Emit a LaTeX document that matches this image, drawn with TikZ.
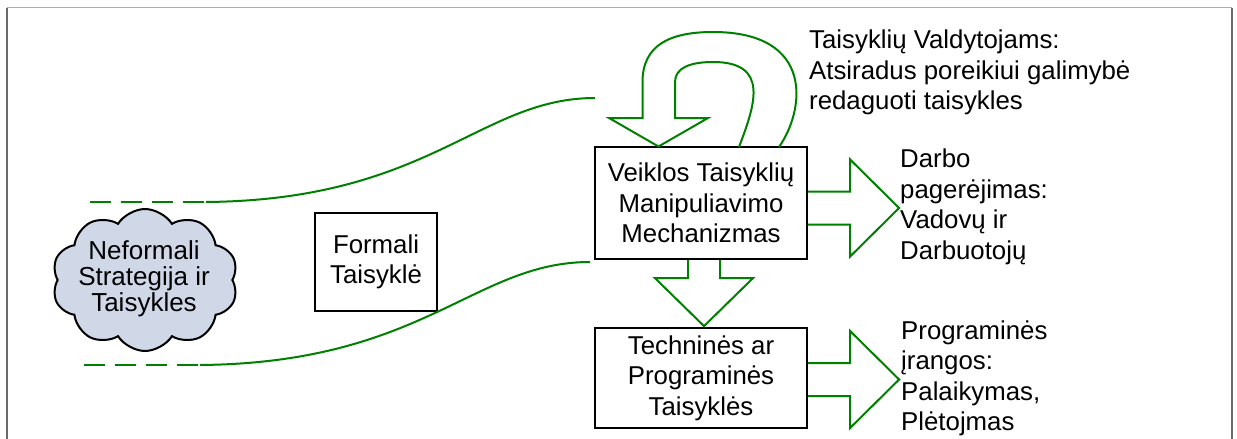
\documentclass[tikz,border=0pt]{standalone}
\usepackage{fontspec}
\setmainfont{Liberation Sans}
\usetikzlibrary{shapes.symbols}
\definecolor{flowgreen}{RGB}{0,128,0}
\definecolor{cloudfill}{RGB}{208,216,232}
\definecolor{framegray}{RGB}{105,105,105}
\begin{document}
\begin{tikzpicture}[x=1pt,y=-1pt,
  every node/.style={font=\fontsize{25.8}{30.5}\selectfont, inner sep=0pt},
  box/.style={draw=black, line width=2.2pt, fill=white, align=center},
  flow/.style={draw=flowgreen, line width=2pt, line join=miter},
  note/.style={align=left, anchor=west}]
\useasboundingbox (0,0) rectangle (1237,439);

% frame
\draw[framegray!55, line width=1.5pt] (7,7.5) -- (1232,7.5);
\draw[framegray, line width=2pt] (7,439) -- (7,7.5);
\draw[framegray, line width=2pt] (1232,7.5) -- (1232,439);

% boxes
\node[box, minimum width=212pt, minimum height=112pt] (veikla) at (701,203)
  {Veiklos Taisyklių\\Manipuliavimo\\Mechanizmas};
\node[box, minimum width=212pt, minimum height=100pt] (techn) at (701,378)
  {Techninės ar\\Programinės\\Taisyklės};
\node[box, minimum width=122pt, minimum height=98pt] (formali) at (376,262)
  {Formali\\Taisyklė};

% cloud
\node[cloud, draw=black, fill=cloudfill, line width=2pt, cloud puffs=10,
  cloud puff arc=115, aspect=1.35, minimum width=186pt, minimum height=142pt]
  (cloud) at (145,280) {};
\node[align=center, font=\fontsize{26}{26}\selectfont] (cloudtext) at (144,279)
  {Neformali\\Strategija ir\\Taisykles};

% funnel lines
\coordinate (upA) at (90,202);
\coordinate (upB) at (206,202);
\coordinate (upC) at (595,98);
\coordinate (loA) at (84,365);
\coordinate (loB) at (200,365);
\coordinate (loC) at (590,262);
\draw[flow, dash pattern=on 20.5pt off 10.5pt] (upA) -- (upB);
\draw[flow] (upB) .. controls (430,200) and (480,98) .. (upC);
\draw[flow, dash pattern=on 20.5pt off 10.5pt] (loA) -- (loB);
\draw[flow] (loB) .. controls (424,363) and (474,262) .. (loC);

% U-turn arrow on top of the mechanism box
\draw[flow] (739,147) .. controls (755,105) and (770,62) .. (713,62)
  .. controls (690,62) and (675,68) .. (675,82) -- (675,118) -- (708,118)
  -- (658.5,146.5) -- (609,118) -- (642.5,118) -- (642.5,82)
  .. controls (642.5,45) and (670,32) .. (713,32)
  .. controls (815,32) and (805,110) .. (779,147);

% block arrows to the right
\begin{scope}[shift={(veikla.east)}]
  \draw[flow] (0,-11.5) -- (42,-11.5) -- (42,-43.5) -- (91,5) -- (42,53.5)
    -- (42,21.5) -- (0,21.5);
\end{scope}
\begin{scope}[shift={(techn.east)}]
  \draw[flow] (0,-15) -- (42,-15) -- (42,-47) -- (91,1.5) -- (42,50)
    -- (42,18) -- (0,18);
\end{scope}
% block arrow downwards
\begin{scope}[shift={(veikla.south)}]
  \draw[flow] (-13,0) -- (-13,18) -- (-46,18) -- (3,66) -- (52,18)
    -- (19,18) -- (19,0);
\end{scope}

% notes
\node[note] (valdyt) at (809,72.5)
  {Taisyklių Valdytojams:\\Atsiradus poreikiui galimybė\\redaguoti taisykles};
\node[note] (darbo) at (900,207)
  {Darbo\\pagerėjimas:\\Vadovų ir\\Darbuotojų};
\node[note] (progr) at (901,378.5)
  {Programinės\\įrangos:\\Palaikymas,\\Plėtojmas};
\end{tikzpicture}
\end{document}
